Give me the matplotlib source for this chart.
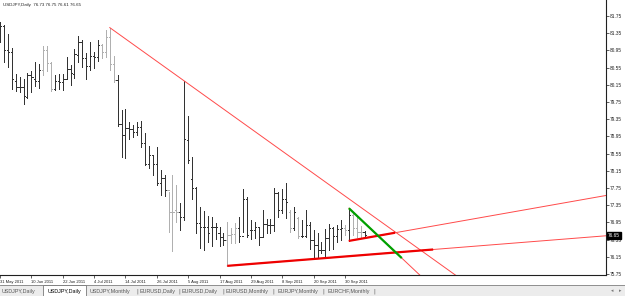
import numpy as np
import pandas as pd
import matplotlib
matplotlib.use("Agg")
import matplotlib.pyplot as plt
from matplotlib.patches import Rectangle

# USDJPY daily bars, 31 May 2011 .. 7 Oct 2011
dates = pd.bdate_range("2011-05-31", "2011-10-07")

opens = [81.40, 81.52, 80.96, 80.91, 80.24, 80.11, 80.11, 79.87, 80.38, 80.28,
         80.24, 80.49, 80.96, 80.65, 80.05, 80.25, 80.22, 80.28, 80.52, 80.39,
         80.84, 81.14, 80.78, 80.58, 80.83, 80.80, 81.08, 80.92, 81.25, 80.63,
         80.26, 79.23, 78.98, 79.14, 79.12, 79.06, 79.17, 78.79, 78.30, 78.52,
         78.30, 77.86, 77.98, 77.70, 77.20, 77.24, 77.19, 77.08, 78.87, 77.97,
         77.74, 76.94, 76.85, 76.84, 76.85, 76.84, 76.71, 76.60, 76.54, 76.66,
         76.68, 76.81, 76.63, 77.49, 76.77, 76.77, 76.85, 76.62, 76.91, 76.89,
         76.89, 77.64, 77.24, 77.49, 77.19, 76.82, 77.05, 76.63, 76.63, 76.89,
         76.54, 76.42, 76.31, 76.31, 76.59, 76.82, 76.63, 76.80, 76.82, 76.77,
         77.13, 76.82, 76.73, 76.73]
highs = [81.61, 81.54, 81.32, 81.01, 80.39, 80.33, 80.28, 80.42, 80.47, 80.69,
         80.63, 81.06, 81.06, 80.69, 80.38, 80.39, 80.39, 80.80, 80.61, 80.99,
         81.28, 81.19, 80.88, 81.14, 80.92, 81.19, 81.11, 81.42, 81.48, 80.83,
         80.38, 79.56, 79.58, 79.28, 79.22, 79.28, 79.31, 79.02, 78.73, 78.52,
         78.71, 78.17, 78.05, 77.66, 78.05, 77.82, 77.39, 80.24, 79.42, 78.46,
         77.77, 77.31, 77.22, 77.10, 77.08, 76.93, 76.85, 76.71, 76.97, 76.81,
         76.93, 77.07, 77.72, 77.55, 77.01, 76.97, 76.85, 77.25, 77.02, 77.02,
         77.74, 77.66, 77.72, 77.86, 77.24, 77.31, 77.08, 77.01, 77.24, 76.97,
         76.77, 76.70, 76.50, 76.79, 76.91, 76.84, 76.89, 77.01, 76.89, 77.28,
         77.16, 77.12, 76.86, 76.75]
lows = [81.15, 80.69, 80.57, 80.05, 80.00, 79.99, 79.70, 79.85, 79.98, 80.13,
        80.08, 80.38, 80.47, 80.00, 80.02, 80.05, 80.02, 80.30, 80.14, 80.31,
        80.69, 80.56, 80.28, 80.49, 80.53, 80.70, 80.77, 80.80, 80.49, 80.22,
        79.20, 78.48, 78.45, 78.89, 78.94, 78.98, 78.71, 78.29, 78.22, 78.05,
        77.82, 77.59, 77.56, 76.73, 76.29, 76.97, 76.77, 77.00, 78.32, 77.49,
        76.70, 76.35, 76.31, 76.50, 76.39, 76.56, 76.40, 76.42, 75.94, 76.48,
        76.46, 76.50, 76.73, 76.62, 76.56, 76.58, 76.42, 76.60, 76.70, 76.71,
        76.76, 77.08, 77.16, 77.05, 76.73, 76.77, 76.58, 76.60, 76.60, 76.32,
        76.14, 76.14, 76.23, 76.15, 76.31, 76.32, 76.50, 76.54, 76.66, 76.52,
        76.66, 76.60, 76.60, 76.61]
closes = [81.52, 80.96, 80.91, 80.29, 80.11, 80.10, 79.90, 80.38, 80.33, 80.24,
          80.49, 80.96, 80.65, 80.05, 80.25, 80.22, 80.28, 80.52, 80.42, 80.86,
          81.14, 80.78, 80.58, 80.83, 80.80, 81.08, 80.91, 81.25, 80.63, 80.26,
          79.23, 78.98, 79.14, 79.12, 79.06, 79.17, 78.79, 78.30, 78.52, 78.30,
          77.86, 77.98, 77.70, 77.20, 77.19, 77.19, 77.08, 78.88, 78.39, 77.74,
          76.94, 76.85, 76.84, 76.71, 76.84, 76.85, 76.60, 76.54, 76.66, 76.68,
          76.81, 76.63, 77.49, 76.66, 76.77, 76.85, 76.62, 76.91, 76.89, 76.89,
          77.64, 77.24, 77.49, 77.43, 76.82, 77.19, 76.63, 76.63, 76.89, 76.54,
          76.42, 76.31, 76.31, 76.59, 76.82, 76.63, 76.80, 76.82, 76.77, 77.13,
          76.82, 76.73, 76.73, 76.65]

# bars that look washed out in the screenshot
light_bars = [11, 12, 13, 26, 27, 28, 29, 43, 44, 45, 58, 59, 60, 74, 76, 88, 90, 91, 92]

# trend lines: (bar index, price) anchor pairs
resist_line = [(28, 81.48), (47, 80.24)]
support_line = [(58, 75.94), (110.5, 76.32)]
upper_line = [(89, 76.52), (100.8, 76.71)]
green_line = [(89, 77.28), (102.5, 76.12)]

price_ticks = [75.75 + 0.4 * k for k in range(16)]
tabs = ["USDJPY,Daily", "USDJPY,Daily", "USDJPY,Monthly", "EURUSD,Daily", "EURUSD,Daily",
        "EURUSD,Monthly", "EURJPY,Monthly", "EURCHF,Monthly"]

W, H = 625, 296
fig = plt.figure(figsize=(W / 100, H / 100), dpi=100)
ax = fig.add_axes([0, 21 / H, 606 / W, 275 / H])

x_max = 606 / 3.92
y_lo, y_hi = 75.727, 82.122
ax.set_xlim(0, x_max)
ax.set_ylim(y_lo, y_hi)

# OHLC bars
idx = np.arange(len(opens))
cols = ["#b0b0b0" if i in light_bars else "#333333" for i in idx]
bar_lw = 0.68
ax.vlines(idx, lows, highs, colors=cols, lw=bar_lw, antialiased=False)
ax.hlines(opens, idx - 0.3, idx, colors=cols, lw=bar_lw, antialiased=False)
ax.hlines(closes, idx, idx + 0.3, colors=cols, lw=bar_lw, antialiased=False)


def ray(p0, p1, x_end):
    (x0, y0), (x1, y1) = p0, p1
    s = (y1 - y0) / (x1 - x0)
    return [x0, x_end], [y0, y0 + s * (x_end - x0)]


xs, ys = ray(*resist_line, x_max)
ax.plot(xs, ys, color="#ff4a4a", lw=0.7)
xs, ys = ray(*support_line, x_max)
ax.plot(xs, ys, color="#ff4a4a", lw=0.7)
ax.plot(*zip(*support_line), color="#ee0000", lw=1.6, solid_capstyle="butt")
xs, ys = ray(*upper_line, x_max)
ax.plot(xs, ys, color="#ff4a4a", lw=0.7)
ax.plot(*zip(*upper_line), color="#ee0000", lw=1.6, solid_capstyle="butt")
xs, ys = ray(*green_line, x_max)
ax.plot(xs, ys, color="#ff4a4a", lw=0.7)
ax.plot(*zip(*green_line), color="#00a000", lw=1.6, solid_capstyle="butt")

# axes look
for s in ["left", "top"]:
    ax.spines[s].set_visible(False)
for s in ["right", "bottom"]:
    ax.spines[s].set_color("#202020")
    ax.spines[s].set_linewidth(0.8)

ax.yaxis.tick_right()
ax.set_yticks(price_ticks)
ax.set_yticklabels([f"{p:.2f}" for p in price_ticks], fontsize=3.4, family="Liberation Sans")
ax.tick_params(axis="y", length=2, width=0.5, pad=1, colors="#202020")

tick_idx = list(range(0, len(dates), 8))
ax.set_xticks(tick_idx)
ax.set_xticklabels([f"{dates[i].day} {dates[i]:%b %Y}" for i in tick_idx],
                   fontsize=3.0, family="Liberation Sans")
ax.tick_params(axis="x", length=2, width=0.5, pad=1.5, colors="#202020")
for lab in ax.get_xticklabels():
    lab.set_horizontalalignment("left")

# last price marker on the scale
ax.text(1.003, closes[-1], f"{closes[-1]:.2f}", transform=ax.get_yaxis_transform(),
        fontsize=3.4, family="Liberation Sans", color="white", va="center", ha="left",
        bbox=dict(boxstyle="square,pad=0.15", fc="black", ec="black"), clip_on=False)

ax.text(0.005, 0.99, f"USDJPY,Daily  {opens[-1]:.2f} {highs[-1]:.2f} {lows[-1]:.2f} {closes[-1]:.2f}",
        transform=ax.transAxes, fontsize=3.2, family="Liberation Sans", va="top", color="#202020")

# tab strip at the bottom
fig.patches.append(Rectangle((0, 0), 1, 11 / H, transform=fig.transFigure,
                             fc="#ececec", ec="none", zorder=0))
fig.add_artist(plt.Line2D([0, 1], [11 / H, 11 / H], color="#808080", lw=0.6))
tab_x = [2, 48, 90, 140, 182, 226, 277, 327]
fig.patches.append(Rectangle((43 / W, 0), 43 / W, 11 / H, transform=fig.transFigure,
                             fc="white", ec="#606060", lw=0.5, zorder=1))
for k, (t, x) in enumerate(zip(tabs, tab_x)):
    fig.text(x / W, 5 / H, t, fontsize=3.9, family="Liberation Sans", va="center",
             color="black" if k == 1 else "#555555", zorder=3)
for x in [136, 178, 222, 272, 322, 373]:
    fig.text(x / W, 5 / H, "|", fontsize=3.9, va="center", color="#555555")
fig.text(611 / W, 5 / H, "\u25c2", fontsize=3.5, va="center", color="#777777")
fig.text(619 / W, 5 / H, "\u25b8", fontsize=3.5, va="center", color="#777777")

fig.savefig("out.png", dpi=100)
